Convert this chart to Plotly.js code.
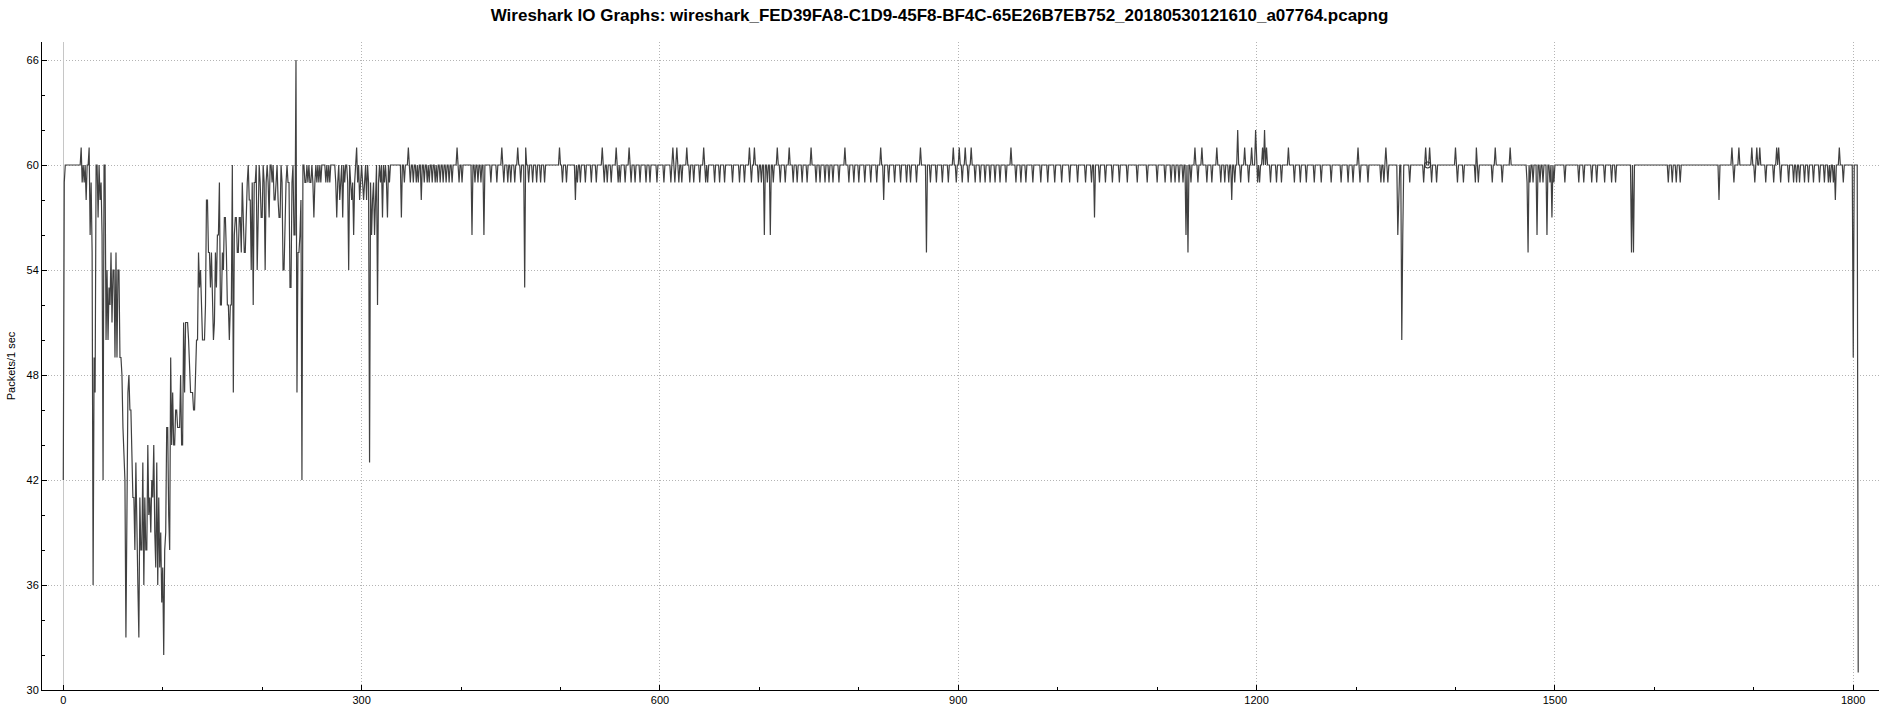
<!DOCTYPE html>
<html>
<head>
<meta charset="utf-8">
<script src="https://cdn.plot.ly/plotly-3.0.1.min.js"></script>
<style>html,body{margin:0;padding:0;background:#fff;}#chart{width:1879px;height:712px;}</style>
</head>
<body>
<div id="chart"></div>
<script>
// Title / axis text
const chartTitle = "Wireshark IO Graphs: wireshark_FED39FA8-C1D9-45F8-BF4C-65E26B7EB752_20180530121610_a07764.pcapng";
const yTitle = "Packets/1 sec";
const xTitle = "Time (s)";

// Packets per second, t = 0 .. 340 (volatile start-up phase)
const startPackets = [
  42,59,60,60,60,60,60,60,60,60,
  60,60,60,60,60,60,60,60,61,59,
  60,59,60,58,60,60,61,56,59,55,
  36,49,47,60,60,57,60,58,59,56,
  42,60,60,50,54,50,53,52,55,51,
  54,54,49,55,49,54,54,49,49,48,
  45,43,42,33,40,47,48,46,46,42,
  41,41,38,43,38,36,33,41,38,38,
  43,36,41,38,38,44,40,41,39,42,
  41,44,39,37,43,36,41,37,39,35,
  37,32,38,39,45,45,40,38,49,44,
  47,44,44,46,46,45,45,45,48,44,
  44,51,47,51,51,51,50,48,47,47,
  47,46,46,48,50,50,55,53,54,52,
  50,50,50,52,58,58,55,55,53,55,
  53,50,51,55,53,56,56,59,52,52,
  55,54,57,57,55,52,52,50,52,52,
  60,47,56,57,57,55,55,57,57,55,
  59,56,55,55,58,59,60,58,58,54,
  59,52,59,59,60,54,57,60,59,57,
  57,60,59,54,59,60,59,57,60,60,
  59,60,58,58,59,60,58,57,57,60,
  59,54,54,58,59,60,59,59,53,53,
  59,60,56,56,66,47,55,55,56,58,
  42,60,60,59,59,60,59,60,59,59,
  60,59,57,59,60,59,60,59,60,59,
  60,60,60,60,59,60,59,60,59,60,
  60,60,60,60,59,57,59,60,58,59,
  60,57,60,59,60,60,59,54,60,59,
  58,59,56,59,60,61,59,60,58,59,
  60,59,58,59,60,58,60,59,43,59,
  56,58,59,56,59,60,52,59,60,59,
  60,57,60,59,60,59,57,60,59,60,
  60,60,60,60,60,60,60,60,60,60,
  57
];

// After t = 340 the rate sits on a steady plateau ...
const plateauLevel = 60;
const lastSecond = 1805;
// ... except for these seconds [t, packets]
const plateauDeviations = [
  [343,59],[347,61],[349,59],[352,59],[355,59],[357,59],[360,58],[363,59],[366,59],
  [368,59],[371,59],[374,59],[376,59],[379,59],[382,59],[385,59],
  [388,59],[391,59],[396,61],[398,59],[401,59],[411,56],[414,59],[417,59],
  [420,59],[423,56],[430,59],[436,59],[441,61],[443,59],[447,59],[450,59],
  [454,59],[457,61],[460,59],[464,53],[465,61],[468,59],[472,59],[476,59],[480,59],
  [484,59],[499,61],[502,59],[506,59],[515,58],[517,59],
  [520,59],[525,59],[531,59],[536,59],[542,61],[544,59],[547,59],[551,59],[556,61],[558,59],
  [560,59],[565,59],[569,61],[571,59],[575,59],[580,59],[586,59],[590,59],[597,59],[604,59],
  [611,59],[613,61],[615,59],[617,61],[619,59],[622,59],[627,61],[630,59],[634,59],[640,59],
  [644,61],[646,59],[648,59],[655,59],[660,59],[665,59],[673,59],[680,59],[685,59],[690,61],
  [692,59],[695,61],[699,59],[702,59],[705,56],[708,59],[711,56],[714,59],[718,61],[721,59],
  [726,59],[730,61],[734,59],[738,59],[743,59],[748,59],[752,61],[757,59],[761,59],[766,59],
  [770,59],[774,59],[780,59],[786,61],[790,59],[795,59],[800,59],[806,59],[812,59],[818,59],
  [822,61],[825,58],[830,59],[836,59],[842,59],[848,59],[852,59],[858,59],[862,61],[868,55],
  [872,59],[878,59],[884,59],[890,59],[895,61],[898,59],[901,61],[904,59],[907,61],[910,59],
  [913,61],[917,59],[922,59],[927,59],[932,59],[937,59],[942,59],[948,59],[953,61],[958,59],
  [963,59],[968,59],[975,59],[983,59],[990,59],[997,59],[1004,59],[1012,59],[1020,59],[1028,59],
  [1034,59],[1037,57],[1042,59],[1048,59],[1055,59],[1062,59],[1070,59],[1080,59],[1090,59],[1100,59],
  [1108,59],[1114,59],[1118,59],[1122,59],[1126,59],[1129,56],[1131,55],[1134,59],[1138,61],[1141,59],
  [1145,61],[1150,59],[1155,59],[1160,61],[1164,59],[1168,59],[1172,59],[1175,58],[1178,59],[1181,62],
  [1184,59],[1188,61],[1192,59],[1195,61],[1199,62],[1201,59],[1203,59],[1206,61],[1208,62],[1210,61],
  [1214,59],[1220,59],[1225,59],[1232,61],[1238,59],[1244,59],[1250,59],[1258,59],[1265,59],[1275,59],
  [1285,59],[1292,59],[1297,59],[1302,61],[1304,59],[1312,59],[1325,59],[1328,59],[1330,61],[1332,59],
  [1342,56],[1343,59],[1346,50],[1347,56],[1354,59],[1368,59],[1370,61],[1374,61],[1376,59],[1381,59],
  [1400,61],[1402,59],[1408,59],[1420,59],[1421,61],[1423,59],[1437,59],[1440,61],[1447,59],[1455,61],
  [1472,59],[1473,55],[1475,59],[1478,59],[1482,56],[1485,59],[1488,59],[1492,56],[1495,59],[1497,57],
  [1499,59],[1510,59],[1524,59],[1529,59],[1537,59],[1542,59],[1550,59],[1557,59],[1561,59],[1577,55],
  [1579,55],[1614,59],[1618,59],[1622,59],[1626,59],[1665,58],[1678,61],[1680,59],[1685,61],[1698,61],
  [1701,59],[1703,61],[1706,61],[1712,59],[1720,59],[1723,61],[1725,61],[1727,59],[1735,59],[1740,59],
  [1743,59],[1746,59],[1751,59],[1755,59],[1760,59],[1766,59],[1771,59],[1775,59],[1777,59],[1780,59],
  [1782,58],[1786,61],[1790,59],[1800,49],[1805,31]
];

// Graph cursor marker (small open circle on the line)
const cursorSecond = [1372];

// Assemble the series
const seconds = [];
const packets = [];
for (let t = 0; t < startPackets.length; t++) { seconds.push(t); packets.push(startPackets[t]); }
const devMap = new Map(plateauDeviations.map(d => [d[0], d[1]]));
for (let t = startPackets.length; t <= lastSecond; t++) {
  seconds.push(t);
  packets.push(devMap.has(t) ? devMap.get(t) : plateauLevel);
}
const cursorY = cursorSecond.map(t => packets[t]);

const FONT = "Liberation Sans, Arial, sans-serif";
const GRID = "#b4b4b4";

const traces = [
  {
    type: "scatter", mode: "lines", x: seconds, y: packets,
    line: { color: "#404040", width: 1.2 },
    hoverinfo: "x+y", showlegend: false
  },
  {
    type: "scatter", mode: "markers", x: cursorSecond, y: cursorY,
    marker: { symbol: "circle-open", size: 6, color: "#333", line: { width: 1.2, color: "#333" } },
    showlegend: false
  }
];

const layout = {
  width: 1879, height: 712,
  margin: { l: 42, r: 0, t: 42, b: 22, pad: 0 },
  paper_bgcolor: "#fff", plot_bgcolor: "#fff",
  font: { family: FONT, size: 11, color: "#000" },
  title: {
    text: "<b>" + chartTitle + "</b>",
    font: { family: FONT, size: 17, color: "#000" },
    xref: "container", x: 0.5, xanchor: "center",
    yref: "container", y: 1 - 15 / 712, yanchor: "middle"
  },
  xaxis: {
    range: [-21.4, 1825.9],
    tick0: 0, dtick: 300,
    ticks: "inside", ticklen: 5, tickwidth: 1, tickcolor: "#000",
    showline: true, linecolor: "#000", linewidth: 1,
    showgrid: true, gridcolor: GRID, griddash: "1px,2px", gridwidth: 1,
    zeroline: true, zerolinecolor: "#c6c6c6", zerolinewidth: 1,
    minor: { dtick: 100, tick0: 0, ticks: "inside", ticklen: 3, tickcolor: "#000", showgrid: false },
    tickfont: { family: FONT, size: 11, color: "#000" },
    automargin: false, fixedrange: true
  },
  yaxis: {
    range: [30, 67.03],
    tick0: 30, dtick: 6,
    ticks: "inside", ticklen: 5, tickwidth: 1, tickcolor: "#000",
    showline: true, linecolor: "#000", linewidth: 1,
    showgrid: true, gridcolor: GRID, griddash: "1px,2px", gridwidth: 1,
    zeroline: false,
    minor: { dtick: 2, tick0: 30, ticks: "inside", ticklen: 3, tickcolor: "#000", showgrid: false },
    tickfont: { family: FONT, size: 11, color: "#000" },
    title: { text: yTitle, font: { family: FONT, size: 11, color: "#000" }, standoff: 8 },
    automargin: false, fixedrange: true
  },
  annotations: [
    // x-axis title: sits below the tick labels, mostly cut off by the bottom edge as in the reference
    {
      text: xTitle, xref: "paper", x: 0.5, xanchor: "center",
      yref: "paper", y: 0, yanchor: "top", yshift: -19,
      showarrow: false, font: { family: FONT, size: 11, color: "#000" }
    }
  ]
};

Plotly.newPlot("chart", traces, layout, { displayModeBar: false, staticPlot: true });
</script>
</body>
</html>
